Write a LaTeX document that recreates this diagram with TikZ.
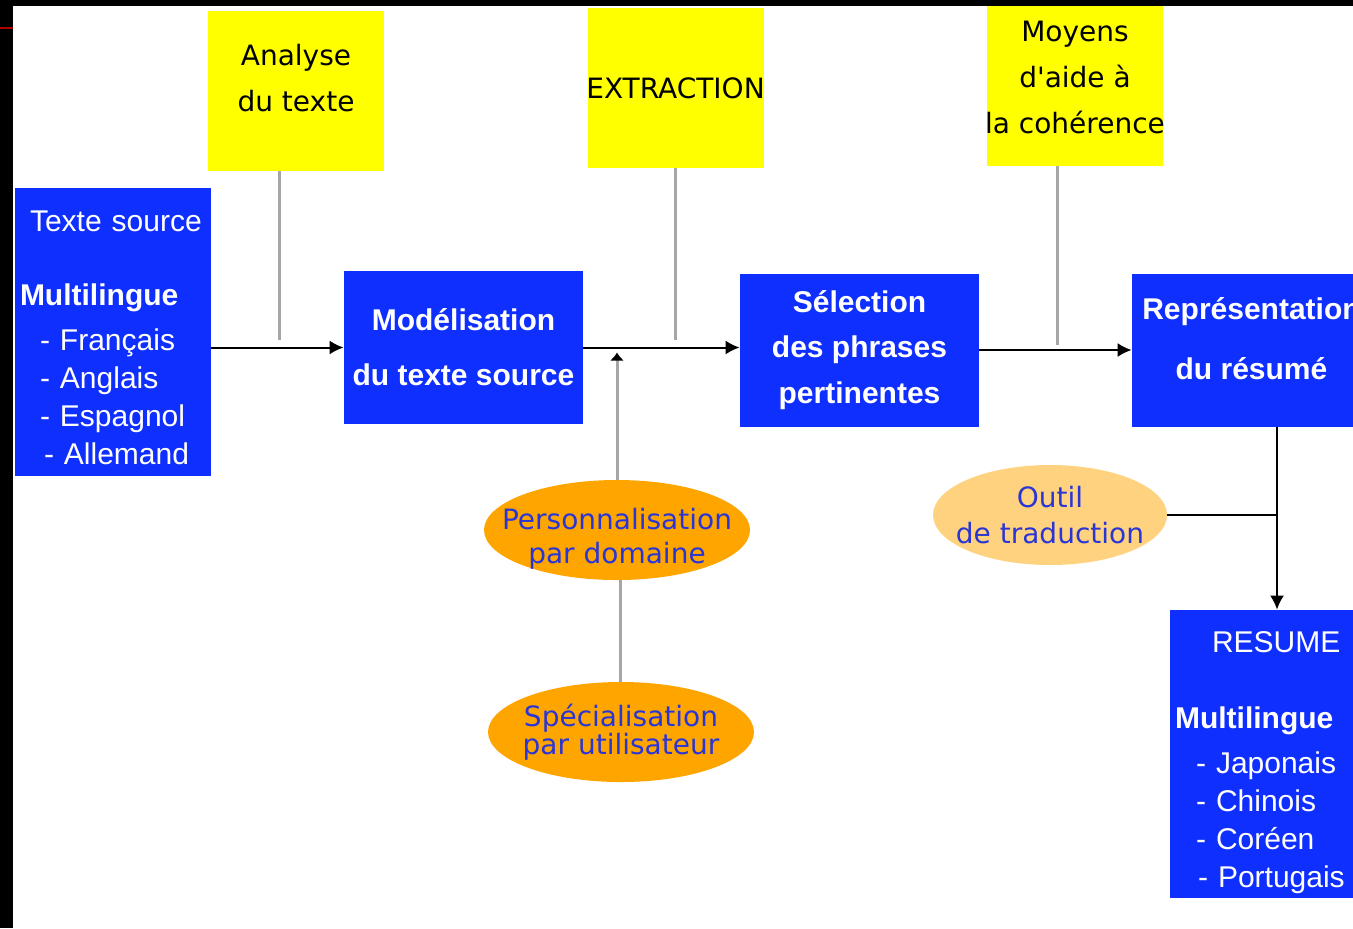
\documentclass[tikz,border=0pt]{standalone}
\usepackage{fontspec}
\setmainfont{Liberation Sans}
\newfontfamily\noteFont{DejaVu Sans}
\usepackage{xcolor}
\definecolor{boxBlue}{HTML}{0F2FFF}
\definecolor{noteYellow}{HTML}{FFFF00}
\definecolor{ovalOrange}{HTML}{FFA500}
\definecolor{ovalLight}{HTML}{FFD27F}
\definecolor{ovalText}{HTML}{2A35D5}
\definecolor{tieGray}{HTML}{A6A6A6}
\usepackage{tikz}
\usetikzlibrary{shapes,positioning,calc,arrows.meta}
\tikzset{%
  blueBox/.style={%
    rectangle,
    fill=boxBlue,
    text=white,
    inner sep=0pt,
    align=center,
    minimum width=119.5pt,
    minimum height=76.5pt
  },
  listBox/.style={%
    rectangle,
    fill=boxBlue,
    text=white,
    inner xsep=2.5pt,
    inner ysep=0pt,
    text width=93pt,
    align=left,
    minimum height=144pt,
    font=\fontsize{15}{19}\selectfont
  },
  noteBox/.style={%
    rectangle,
    fill=noteYellow,
    inner xsep=-4pt,
    inner ysep=0pt,
    align=center,
    minimum width=88pt,
    minimum height=80pt,
    font=\noteFont\fontsize{14}{23}\selectfont
  },
  ovalBox/.style={%
    ellipse,
    fill=ovalOrange,
    text=ovalText,
    inner xsep=-15pt,
    inner ysep=0pt,
    align=center,
    minimum width=133pt,
    minimum height=50pt,
    font=\noteFont\fontsize{14}{17}\selectfont
  },
  arrowLine/.style={%
    -{Latex[length=7pt,width=7pt]},
    line width=1pt,
    color=black
  },
  tieLine/.style={%
    line width=1.5pt,
    color=tieGray
  }
}

\begin{document}
\begin{tikzpicture}[x=0.5pt,y=-0.5pt]
  \useasboundingbox (0,0) rectangle (1353,928);
  \clip (0,0) rectangle (1353,928);
  \fill[white] (0,0) rectangle (1353,928);
  % screen edges
  \fill[black] (0,0) rectangle (13,928);
  \fill[black] (0,0) rectangle (1353,6);
  \draw[red!70!black, line width=1pt] (0,28) -- (13,28);

  % yellow notes
  \node[noteBox] (ana) at (296,91) {Analyse\\du texte\rule[-13pt]{0pt}{13pt}};
  \node[noteBox] (ext) at (675.5,88) {EXTRACTION};
  \node[noteBox] (coh) at (1075,86) {Moyens\\d'aide à\\la cohérence\rule[-9pt]{0pt}{9pt}};

  % main chain
  \node[listBox] (src) at (113,332) {\rule{0pt}{16pt}\hspace*{5pt}Texte source\\[18pt]
    \textbf{Multilingue}\\[3.5pt]
    \hspace*{10pt}- Français\\
    \hspace*{10pt}- Anglais\\
    \hspace*{10pt}- Espagnol\\
    \hspace*{12pt}- Allemand};
  \node[blueBox, font=\fontsize{15}{27.5}\selectfont\bfseries] (model) at (463.5,347.5) {Modélisation\\du texte source};
  \node[blueBox, font=\fontsize{15}{22.75}\selectfont\bfseries] (sel) at (859.5,350) {Sélection\\des phrases\\pertinentes};
  \node[blueBox, font=\fontsize{15}{30}\selectfont\bfseries] (repr) at (1251.5,350.5) {Représentation\\du résumé\rule[-12pt]{0pt}{12pt}};
  \node[listBox] (resume) at (1268,754) {\rule{0pt}{19pt}\hspace*{18.5pt}RESUME\\[19pt]
    \textbf{Multilingue}\\[3.5pt]
    \hspace*{10.5pt}- Japonais\\
    \hspace*{10.5pt}- Chinois\\
    \hspace*{10.5pt}- Coréen\\
    \hspace*{11.5pt}- Portugais};

  % ovals
  \node[ovalBox, inner ysep=-4pt] (perso) at (617,530) {\rule{0pt}{19.5pt}Personnalisation\\par domaine};
  \node[ovalBox, font=\noteFont\fontsize{14}{14}\selectfont] (spec) at (621,732) {Spécialisation\\par utilisateur};
  \node[ovalBox, fill=ovalLight, minimum width=117pt, font=\noteFont\fontsize{14}{18}\selectfont] (outil) at (1050,515) {Outil\\de traduction};

  \draw[arrowLine] (src.east |- model.west) -- (model.west);
  \draw[arrowLine] (model.east) -- (sel.west |- model.east);
  \draw[arrowLine] (sel.east) -- (repr.west |- sel.east);

  \coordinate (split) at (1277,515);
  \draw[arrowLine] (repr.south -| split) -- (resume.north -| split);
  \draw[line width=1pt] (outil.east) -- (split);

  \coordinate (anaFoot) at ([xshift=-8.5pt]ana.south);
  \coordinate (cohFoot) at ([xshift=-9pt]coh.south);
  \draw[tieLine, shorten >=4pt] (anaFoot) -- (anaFoot |- model.west);
  \draw[tieLine, shorten >=4pt] (ext.south) -- (ext.south |- model.east);
  \draw[tieLine, shorten >=2.5pt] (cohFoot) -- (cohFoot |- sel.east);
  \draw[tieLine, -{Latex[length=4pt,width=7pt,color=black]}, shorten >=2.5pt] (perso.north) -- (perso.north |- model.east);
  \draw[tieLine] ([xshift=1.5pt]perso.south) -- ([xshift=1.5pt]perso.south |- spec.north);
\end{tikzpicture}
\end{document}
